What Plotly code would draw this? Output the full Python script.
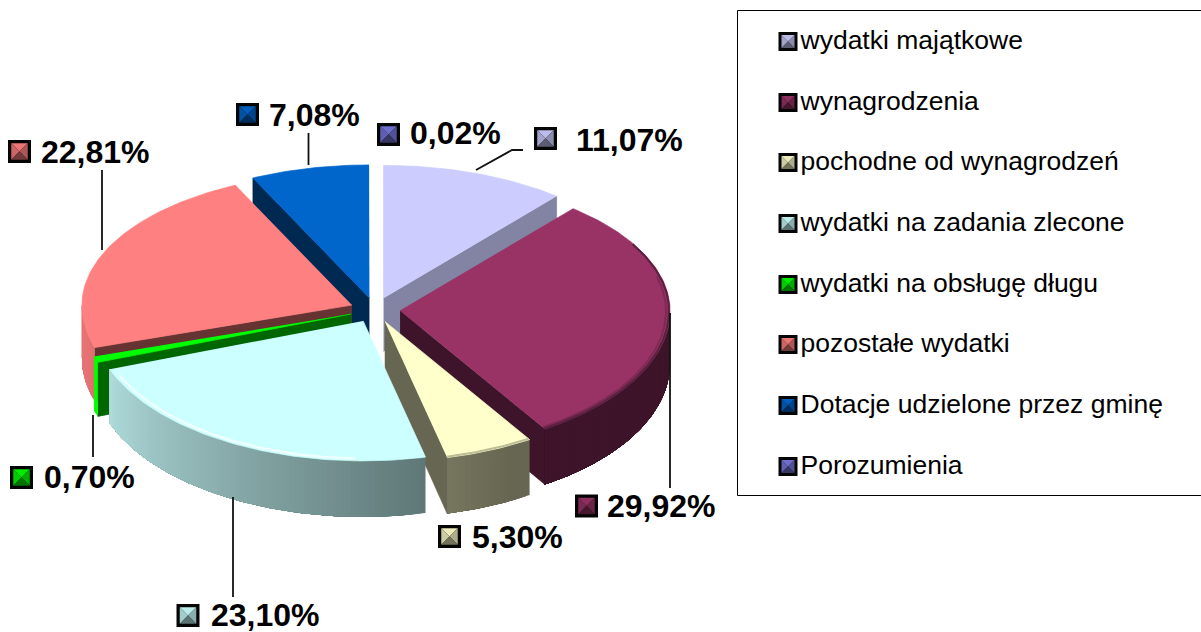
import math
import plotly.graph_objects as go

# ---- data ----
categories = ["wydatki majątkowe", "wynagrodzenia", "pochodne od wynagrodzeń",
              "wydatki na zadania zlecone", "wydatki na obsługę długu",
              "pozostałe wydatki", "Dotacje udzielone przez gminę", "Porozumienia"]
shares = [11.07, 29.92, 5.30, 23.10, 0.70, 22.81, 7.08, 0.02]
colors = ["#CCCCFF", "#993366", "#FFFFCC", "#CCFFFF", "#00FF00", "#FF8080", "#0066CC", "#7777DD"]

# ---- layout and style constants (pixels of the chart area) ----
W, H = 1201, 632
CX, CY, RX, RY, RY_FRONT = 375, 310, 270, 133, 140
EXPLODE, DEPTH, DEPTH_FRONT = 0.093, 53, 3
EDGE_SHADE = [0.64, 0.40, 0.40, 0.40, 0.40, 0.40, 0.40, 0.40]
DRAW_ORDER = [0, 1, 6, 7, 5, 4, 2, 3]
LABEL_POS = [(576, 143), (607, 509), (472, 540), (211, 618), (44, 480), (41, 155), (269, 118), (410, 136)]
LABEL_ICON = [(545.5, 138.5), (586.5, 506), (449.5, 536.5), (188, 615.5), (21.5, 477.5), (19.5, 151.5), (247.5, 114.5), (388.5, 134.5)]
LEGEND_Y = [40, 101, 161, 222, 283, 343, 404, 465]
LEADERS = [[(476, 170), (512, 150), (523, 150)], [(670, 313), (670, 488)], [(233, 497), (233, 597)],
           [(93, 415), (93, 457)], [(102, 170), (102, 250)], [(308.5, 133), (308.5, 165)]]
# slice index: list of (colour, width, radius scale, skip at start, skip at end)
BEVELS = {1: [("#7E2A54", 2, 0.985, 35, 0), ("#5A2040", 2, 0.996, 20, 0)],
          3: [("#EEFFFF", 2.5, 0.983, 15, 3)],
          2: [("#BDBD96", 2, 0.993, 0, 0)]}
FONT = "Liberation Sans, Arial, sans-serif"


def shade(hex_color, k):
    r, g, b = (int(hex_color[i:i + 2], 16) for i in (1, 3, 5))
    return f"#{round(r * k):02X}{round(g * k):02X}{round(b * k):02X}"


def rim_shade(t):
    return max(0.40, min(0.90, 0.47 + (t - 167) * 0.39 / 83))


def depth_at(t):
    return DEPTH + DEPTH_FRONT * max(0.0, -math.cos(math.radians(t)))


def arc(ax, ay, t1, t2, scale=1.0, n=None):
    n = n or max(2, int(abs(t2 - t1)) + 2)
    pts = []
    for i in range(n):
        deg = t1 + (t2 - t1) * i / (n - 1)
        t = math.radians(deg)
        ry = RY if math.cos(t) > 0 else RY_FRONT
        pts.append((ax + scale * RX * math.sin(t), ay - scale * ry * math.cos(t), deg))
    return pts


fig = go.Figure()


def poly(pts, color, name, lw=0.7, opacity=1.0):
    fig.add_trace(go.Scatter(x=[p[0] for p in pts], y=[p[1] for p in pts], mode="lines", fill="toself",
                             fillcolor=color, line=dict(color=color, width=lw), name=name, opacity=opacity,
                             showlegend=False, hoverinfo="skip"))


# slice angles, measured clockwise from the top, from the shares
starts, cum = [], 0.0
for s in shares:
    starts.append(cum)
    cum += s * 3.6

for i in DRAW_ORDER:
    name, col = categories[i], colors[i]
    t1, t2 = starts[i], starts[i] + shares[i] * 3.6
    mid = math.radians((t1 + t2) / 2)
    ax = CX + EXPLODE * RX * math.sin(mid)
    ay = CY - EXPLODE * RY * math.cos(mid)
    # a sliver under a tenth of a percent does not show in the reference
    tiny = shares[i] < 0.1
    lw = 0 if tiny else 0.7
    op = 0 if tiny else 1
    # straight cut walls that face the viewer
    for t, visible in ((t2, 0 < t2 < 180), (t1, 180 < t1 < 360)):
        if visible:
            tip = arc(ax, ay, t, t, n=2)[0]
            poly([(ax, ay), tip, (tip[0], tip[1] + depth_at(t)), (ax, ay + DEPTH)],
                 shade(col, EDGE_SHADE[i]), name, lw, op)
    # outer rim wall: overlapping strips, each one painted up to the far end, for the shading
    a, b = max(t1, 90), min(t2, 270)
    if b > a:
        steps = max(1, int(b - a))
        for k in range(steps):
            u = a + (b - a) * k / steps
            top = arc(ax, ay, u, b)
            low = [(x, y + depth_at(d), d) for x, y, d in reversed(top)]
            c = col if i == 4 else shade(col, rim_shade(u))
            poly(top + low, c, name, 0)
    # top face
    poly([(ax, ay)] + arc(ax, ay, t1, t2), col, name, lw, op)
    # soft bevel along the rim
    for c, w, sc, skip_a, skip_b in BEVELS.get(i, []):
        pts = arc(ax, ay, t1 + skip_a, t2 - skip_b, scale=sc)
        fig.add_trace(go.Scatter(x=[p[0] for p in pts], y=[p[1] for p in pts], mode="lines",
                                 line=dict(color=c, width=w), showlegend=False, hoverinfo="skip"))

# leader lines
for seg in LEADERS:
    fig.add_trace(go.Scatter(x=[p[0] for p in seg], y=[p[1] for p in seg], mode="lines",
                             line=dict(color="#111111", width=1.8), showlegend=False, hoverinfo="skip"))

# percentage labels
label_text = [f"{s:.2f}%".replace(".", ",") for s in shares]
fig.add_trace(go.Scatter(x=[p[0] for p in LABEL_POS], y=[p[1] for p in LABEL_POS], text=label_text,
                         mode="text", textposition="middle right", texttemplate="<b>%{text}</b>",
                         textfont=dict(family=FONT, size=32, color="#000000"), showlegend=False, hoverinfo="skip"))

# legend text
fig.add_trace(go.Scatter(x=[800.5] * len(categories), y=[y + 2 for y in LEGEND_Y], text=categories, mode="text",
                         textposition="middle right", textfont=dict(family=FONT, size=26.5, color="#000000"),
                         showlegend=False, hoverinfo="skip"))


def tri(p, q, r, color):
    return dict(type="path", path=f"M{p[0]},{p[1]} L{q[0]},{q[1]} L{r[0]},{r[1]} Z",
                fillcolor=color, line=dict(width=0), layer="above")


def icon(cx, cy, size, col):
    h = size / 2
    out = [dict(type="rect", x0=cx - h, x1=cx + h, y0=cy - h, y1=cy + h, fillcolor="#050505",
                line=dict(width=0), layer="above")]
    g = h - max(3, size * 0.14)
    tl, tr, bl, br = (cx - g, cy - g), (cx + g, cy - g), (cx - g, cy + g), (cx + g, cy + g)
    c = (cx, cy)
    out += [tri(tl, tr, c, shade(col, 0.92)), tri(tl, bl, c, shade(col, 0.80)),
            tri(tr, br, c, shade(col, 0.68)), tri(bl, br, c, shade(col, 0.45))]
    return out


shapes = [dict(type="rect", x0=737.5, x1=1205, y0=10.5, y1=495.5, line=dict(color="#000000", width=1),
               fillcolor="rgba(0,0,0,0)", layer="below")]
for i, col in enumerate(colors):
    shapes += icon(*LABEL_ICON[i], 23, col)
    shapes += icon(788, LEGEND_Y[i] + 1.5, 19, col)

fig.update_layout(width=W, height=H, margin=dict(l=0, r=0, t=0, b=0), paper_bgcolor="#FFFFFF", plot_bgcolor="#FFFFFF",
                  xaxis=dict(range=[0, W], visible=False, fixedrange=True),
                  yaxis=dict(range=[H, 0], visible=False, fixedrange=True),
                  showlegend=False, shapes=shapes)

fig.write_html("out.html", config={"displayModeBar": False},
               post_script="document.body.style.margin='0';document.body.style.overflow='hidden';")
